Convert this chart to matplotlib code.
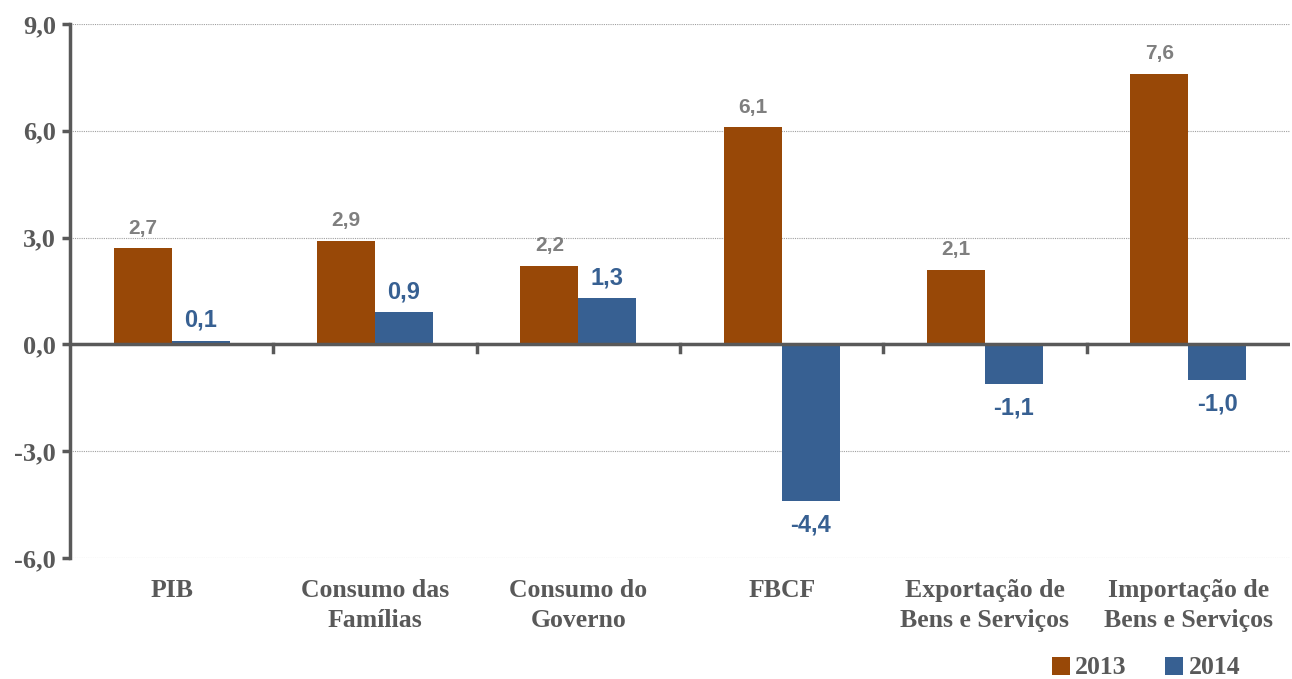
import numpy as np
import matplotlib.pyplot as plt

categorias = ['PIB', 'Consumo das\nFamílias', 'Consumo do\nGoverno', 'FBCF',
              'Exportação de\nBens e Serviços', 'Importação de\nBens e Serviços']
v2013 = [2.7, 2.9, 2.2, 6.1, 2.1, 7.6]
v2014 = [0.1, 0.9, 1.3, -4.4, -1.1, -1.0]
yticks = [-6.0, -3.0, 0.0, 3.0, 6.0, 9.0]

cor13 = '#984807'
cor14 = '#376092'
cinza = '#595959'

fig = plt.figure(figsize=(12.92, 6.79), dpi=100)
ax = fig.add_axes([70 / 1292, 1 - 558 / 679, 1220 / 1292, 534 / 679])

x = np.arange(len(categorias))
w = 0.285
b1 = ax.bar(x - w / 2, v2013, w, color=cor13, zorder=3)
b2 = ax.bar(x + w / 2, v2014, w, color=cor14, zorder=3)

ax.set_xlim(-0.5, len(categorias) - 0.5)
ax.set_ylim(-6, 9)
ax.set_yticks(yticks)
ax.set_yticklabels([f'{t:.1f}'.replace('.', ',') for t in yticks],
                   fontfamily='Liberation Serif', fontweight='bold', fontsize=19, color=cinza)
for t in yticks:
    if t != 0:
        ax.axhline(t, color='#a0a0a0', lw=0.8, ls=(0, (1, 1)), zorder=1)

ax.axhline(0, color=cinza, lw=2.5, zorder=4)
ax.set_xticks([])
for i in range(1, len(categorias)):
    ax.plot([i - 0.5, i - 0.5], [0, -0.2], color=cinza, lw=2.5, zorder=4, clip_on=False)

for s in ['top', 'right', 'bottom']:
    ax.spines[s].set_visible(False)
ax.spines['left'].set_color(cinza)
ax.spines['left'].set_linewidth(2.5)
ax.tick_params(axis='y', length=6, width=2.5, color=cinza, pad=4)

for i, (a, b) in enumerate(zip(v2013, v2014)):
    ax.text(i - w / 2, a + 0.3, f'{a:.1f}'.replace('.', ','), ha='center', va='bottom',
            fontfamily='Liberation Sans', fontweight='bold', fontsize=15, color='#7f7f7f')
    if b >= 0:
        ax.text(i + w / 2, b + 0.25, f'{b:.1f}'.replace('.', ','), ha='center', va='bottom',
                fontfamily='Liberation Sans', fontweight='bold', fontsize=17, color=cor14)
    else:
        ax.text(i + w / 2, b - 0.35, f'{b:.1f}'.replace('.', ','), ha='center', va='top',
                fontfamily='Liberation Sans', fontweight='bold', fontsize=17, color=cor14)

for i, c in enumerate(categorias):
    ax.text(i, -6.6, c, ha='center', va='top', linespacing=1.35,
            fontfamily='Liberation Serif', fontweight='bold', fontsize=18.5, color=cinza)

leg = fig.legend([b1, b2], ['2013', '2014'], loc='center', bbox_to_anchor=(1146 / 1292, 1 - 668 / 679),
                 ncol=2, frameon=False, handlelength=0.7, handleheight=0.7, handletextpad=0.2,
                 columnspacing=1.5, prop={'family': 'Liberation Serif', 'weight': 'bold', 'size': 18.5})
for t in leg.get_texts():
    t.set_color(cinza)

fig.savefig('out.png', dpi=100)
